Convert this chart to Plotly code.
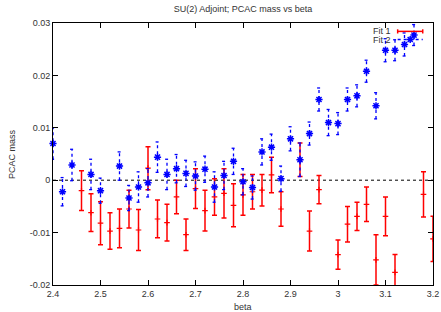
import plotly.graph_objects as go

# ---- data ----
fit1_beta = [2.46, 2.48, 2.50, 2.52, 2.54, 2.56, 2.58, 2.60, 2.62, 2.64, 2.66, 2.68,
             2.70, 2.72, 2.74, 2.76, 2.78, 2.80, 2.82, 2.84, 2.86, 2.88, 2.92, 2.94,
             2.96, 3.00, 3.02, 3.04, 3.06, 3.08, 3.10, 3.12, 3.18, 3.20]
fit1_mass = [-0.0020, -0.0062, -0.0082, -0.0097, -0.0092, -0.0055, -0.0095, 0.0023,
             -0.0074, -0.0081, -0.0032, -0.0104, -0.0016, -0.0058, -0.0032, -0.0025,
             -0.0048, -0.0028, -0.0022, -0.0019, 0.0010, -0.0055, 0.0039, -0.0097,
             -0.0018, -0.0142, -0.0084, -0.0069, -0.0046, -0.0152, -0.0069, -0.0176,
             -0.0027, -0.0112]
fit1_err = [0.0038, 0.0036, 0.0041, 0.0035, 0.0037, 0.0036, 0.0039, 0.0041, 0.0036,
            0.0035, 0.0032, 0.0030, 0.0038, 0.0039, 0.0035, 0.0047, 0.0041, 0.0039,
            0.0033, 0.0030, 0.0034, 0.0033, 0.0032, 0.0038, 0.0027, 0.0028, 0.0034,
            0.0027, 0.0033, 0.0048, 0.0037, 0.0034, 0.0043, 0.0043]

fit2_beta = [2.40, 2.42, 2.44, 2.48, 2.50, 2.54, 2.56, 2.58, 2.60, 2.62, 2.64, 2.66,
             2.68, 2.70, 2.72, 2.74, 2.76, 2.78, 2.80, 2.82, 2.84, 2.86, 2.88, 2.90,
             2.92, 2.94, 2.96, 2.98, 3.00, 3.02, 3.04, 3.06, 3.08, 3.10, 3.12, 3.14, 3.16]
fit2_mass = [0.0070, -0.0022, 0.0029, 0.0011, -0.0020, 0.0027, -0.0034, -0.0013,
             -0.0005, 0.0044, 0.0011, 0.0022, 0.0013, 0.0008, 0.0021, -0.0013, 0.0009,
             0.0036, -0.0003, -0.0014, 0.0054, 0.0063, 0.0003, 0.0079, 0.0039, 0.0089,
             0.0154, 0.0110, 0.0108, 0.0154, 0.0161, 0.0208, 0.0142, 0.0248, 0.0248,
             0.0259, 0.0277]
fit2_err = [0.0030, 0.0027, 0.0030, 0.0029, 0.0024, 0.0027, 0.0024, 0.0029, 0.0027,
            0.0029, 0.0029, 0.0027, 0.0025, 0.0027, 0.0025, 0.0029, 0.0027, 0.0025,
            0.0025, 0.0022, 0.0025, 0.0025, 0.0024, 0.0023, 0.0032, 0.0022, 0.0022,
            0.0025, 0.0021, 0.0022, 0.0021, 0.0021, 0.0025, 0.0022, 0.0020, 0.0022,
            0.0020]

x_ticks = [2.4, 2.5, 2.6, 2.7, 2.8, 2.9, 3.0, 3.1, 3.2]
x_tick_labels = ["2.4", "2.5", "2.6", "2.7", "2.8", "2.9", "3", "3.1", "3.2"]
y_ticks = [-0.02, -0.01, 0, 0.01, 0.02, 0.03]
y_tick_labels = ["-0.02", "-0.01", "0", "0.01", "0.02", "0.03"]

title_text = "SU(2) Adjoint; PCAC mass vs beta"
x_title = "beta"
y_title = "PCAC mass"
series_names = ["Fit 1", "Fit 2"]

RED = "#ff0000"
BLUE = "#0000ff"
TXT = "#333333"
FONT = "Liberation Sans, Arial, sans-serif"

fig = go.Figure()

# Fit 1: solid red error bars with small plus markers
fig.add_trace(go.Scatter(
    x=fit1_beta, y=fit1_mass, mode="markers", name=series_names[0],
    marker=dict(symbol="cross-thin-open", size=4, color=RED, line=dict(color=RED, width=1.2)),
    error_y=dict(type="data", array=fit1_err, visible=True, color=RED, thickness=1.5, width=2.5),
    showlegend=False,
))

# Fit 2: dotted blue error bars built from the data
cap = 0.004
seg_x, seg_y = [], []
for b, m, e in zip(fit2_beta, fit2_mass, fit2_err):
    seg_x += [b, b, None, b - cap, b + cap, None, b - cap, b + cap, None]
    seg_y += [m - e, m + e, None, m + e, m + e, None, m - e, m - e, None]
fig.add_trace(go.Scatter(
    x=seg_x, y=seg_y, mode="lines", line=dict(color=BLUE, width=1.3, dash="dot"),
    hoverinfo="skip", showlegend=False,
))
fig.add_trace(go.Scatter(
    x=fit2_beta, y=fit2_mass, mode="markers", name=series_names[1],
    marker=dict(symbol="asterisk-open", size=6, color=BLUE, line=dict(color=BLUE, width=1.5)),
    showlegend=False, cliponaxis=False,
))

# gnuplot-style key (text left, sample right) on an overlay axis in [0,1]
key_y = [0.968, 0.937]
key_x0, key_x1 = 0.907, 0.973
fig.add_trace(go.Scatter(
    x=[key_x0, key_x1], y=[key_y[0], key_y[0]], xaxis="x2", yaxis="y2", mode="lines",
    line=dict(color=RED, width=1.5), showlegend=False, hoverinfo="skip",
))
fig.add_trace(go.Scatter(
    x=[key_x0, key_x0, None, key_x1, key_x1], y=[key_y[0] - 0.008, key_y[0] + 0.008, None,
                                                   key_y[0] - 0.008, key_y[0] + 0.008],
    xaxis="x2", yaxis="y2", mode="lines",
    line=dict(color=RED, width=1.5), showlegend=False, hoverinfo="skip",
))
fig.add_trace(go.Scatter(
    x=[key_x0, key_x1], y=[key_y[1], key_y[1]], xaxis="x2", yaxis="y2", mode="lines",
    line=dict(color=BLUE, width=1.3, dash="dot"), showlegend=False, hoverinfo="skip",
))
fig.add_trace(go.Scatter(
    x=[(key_x0 + key_x1) / 2], y=[key_y[1]], xaxis="x2", yaxis="y2", mode="markers",
    marker=dict(symbol="asterisk-open", size=6, color=BLUE, line=dict(color=BLUE, width=1.5)),
    showlegend=False, hoverinfo="skip",
))
for name, ky in zip(series_names, key_y):
    fig.add_annotation(x=key_x0 - 0.012, y=ky, xref="x2", yref="y2", text=name,
                       showarrow=False, xanchor="right", yanchor="middle",
                       font=dict(family=FONT, size=9, color=TXT))

# axis titles
fig.add_annotation(x=0.5, y=0, xref="paper", yref="paper", yshift=-22, text=x_title,
                   showarrow=False, xanchor="center", yanchor="middle",
                   font=dict(family=FONT, size=9, color=TXT))
fig.add_annotation(x=0, y=0.5, xref="paper", yref="paper", xshift=-41, text=y_title,
                   textangle=-90, showarrow=False, xanchor="center", yanchor="middle",
                   font=dict(family=FONT, size=9, color=TXT))

# dotted zero line
fig.add_shape(type="line", xref="paper", x0=0, x1=1, yref="y", y0=0, y1=0,
              line=dict(color="black", width=1, dash="dot"), layer="below")

axis_common = dict(showline=True, linecolor="black", linewidth=1, mirror="ticks",
                   ticks="inside", ticklen=5, tickcolor="black", tickwidth=1,
                   showgrid=False, zeroline=False, automargin=False,
                   tickfont=dict(family=FONT, size=9, color=TXT))

fig.update_layout(
    width=441, height=312,
    margin=dict(l=53, r=8, t=23, b=27, autoexpand=False),
    paper_bgcolor="white", plot_bgcolor="white",
    hovermode=False,
    title=dict(text=title_text, x=0.5, xref="paper", xanchor="center",
               y=1 - 9 / 312, yref="container", yanchor="middle",
               font=dict(family=FONT, size=9, color=TXT)),
    xaxis=dict(range=[2.4, 3.2], tickvals=x_ticks, ticktext=x_tick_labels, **axis_common),
    yaxis=dict(range=[-0.02, 0.03], tickvals=y_ticks, ticktext=y_tick_labels, **axis_common),
    xaxis2=dict(overlaying="x", range=[0, 1], visible=False),
    yaxis2=dict(overlaying="y", range=[0, 1], visible=False),
)

fig.write_html("out.html", config={"displayModeBar": False, "staticPlot": True},
               post_script="document.body.style.margin='0';document.body.style.overflow='hidden';")
